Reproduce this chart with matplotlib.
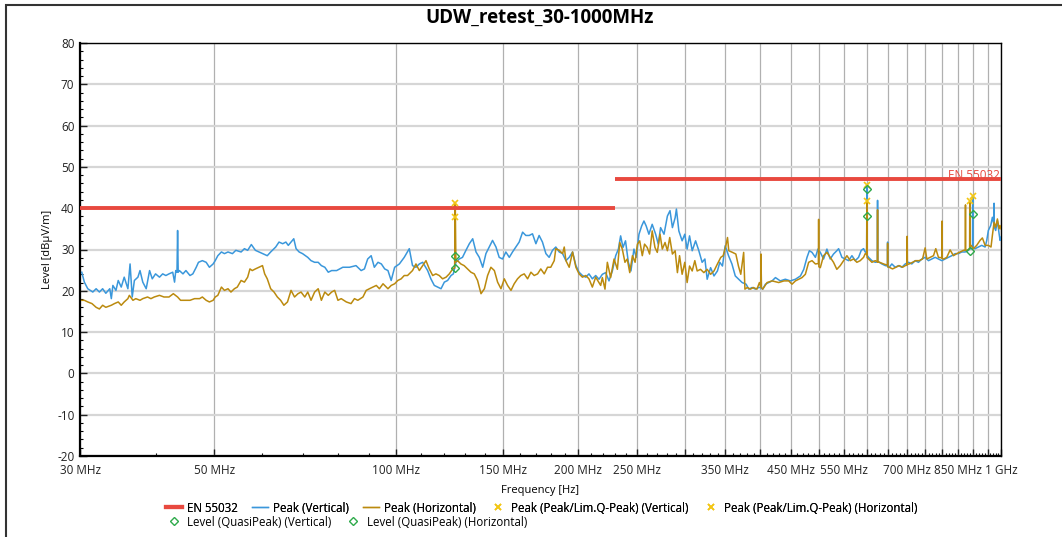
import matplotlib
matplotlib.use("Agg")
import matplotlib.pyplot as plt
from matplotlib.lines import Line2D
from matplotlib.patches import Rectangle
from matplotlib.ticker import FixedLocator, NullFormatter

plt.rcParams['font.family'] = ['Open Sans', 'DejaVu Sans']
plt.rcParams['axes.unicode_minus'] = False

TITLE = "UDW_retest_30-1000MHz"

# ---- Peak (Vertical) trace: frequency [MHz], level [dBuV/m]
v_freq = [30.2, 30.5, 30.9, 31.5, 31.9, 32.3, 32.7, 33.1, 33.6, 33.8, 34.0, 34.4, 34.7, 35.1, 35.5, 36.0,
          36.3, 36.6, 36.9, 37.4, 37.7, 38.1, 38.6, 39.1, 39.5, 40.0, 40.6, 41.1, 41.6, 42.1, 42.7, 43.0,
          43.2, 43.4, 43.5, 43.6, 43.8, 44.4, 44.9, 45.6, 46.1, 46.7, 47.1, 47.8, 48.5, 49.1, 49.8, 50.2,
          50.7, 51.4, 52.0, 52.7, 53.6, 54.3, 55.4, 56.1, 56.8, 57.6, 58.5, 59.3, 60.1, 61.2, 62.0, 63.2,
          64.0, 64.9, 65.7, 66.3, 67.0, 67.7, 68.3, 69.1, 70.0, 71.4, 72.3, 73.3, 74.3, 75.2, 76.2, 77.2,
          78.2, 79.7, 81.6, 83.7, 85.8, 87.5, 88.6, 89.7, 90.9, 92.0, 93.3, 94.5, 95.7, 96.9, 98.1, 99.4,
          101.2, 103.1, 105.1, 106.4, 107.8, 109.2, 110.6, 112.7, 114.1, 115.6, 117.1, 118.6, 120.1, 121.6,
          123.2, 124.3, 125.5, 127.1, 128.7, 130.4, 132.1, 133.8, 135.5, 137.2, 139.0, 140.7, 142.5, 144.3,
          146.2, 148.0, 149.9, 151.8, 153.8, 155.7, 157.7, 159.7, 161.8, 163.8, 165.9, 168.0, 170.2, 172.3,
          174.5, 176.8, 179.0, 181.3, 183.6, 186.0, 188.4, 190.8, 193.2, 195.7, 198.2, 200.6, 203.2, 205.8,
          208.3, 211.0, 213.7, 216.4, 219.2, 222.0, 224.8, 227.7, 230.6, 233.0, 235.0, 237.1, 239.4, 242.0,
          244.4, 247.2, 249.4, 252.0, 254.6, 256.8, 259.0, 261.7, 265.0, 268.5, 271.2, 273.6, 277.2, 280.8,
          283.6, 286.2, 289.2, 290.6, 293.3, 297.0, 300.0, 302.7, 305.5, 308.6, 312.6, 316.5, 320.5, 323.9,
          326.7, 331.0, 335.3, 339.7, 342.8, 346.3, 349.9, 354.4, 359.0, 363.6, 368.3, 373.2, 378.9, 382.8,
          387.7, 392.6, 397.6, 400.6, 401.1, 401.6, 403.6, 407.8, 413.0, 418.3, 423.7, 431.5, 439.9, 448.5,
          457.2, 466.0, 471.9, 477.8, 482.1, 487.0, 493.3, 498.1, 502.6, 508.9, 515.4, 521.9, 528.5, 535.2,
          538.9, 545.7, 552.8, 559.7, 566.9, 574.2, 581.4, 587.4, 592.6, 596.4, 599.6, 600.1, 600.6, 604.0,
          611.7, 619.6, 624.5, 625.0, 625.5, 629.1, 635.4, 643.7, 649.0, 649.4, 649.8, 653.5, 660.0, 668.5,
          676.9, 685.6, 694.5, 703.2, 712.1, 721.2, 730.4, 739.7, 749.2, 758.7, 768.4, 778.2, 788.1, 798.1,
          808.4, 818.6, 829.1, 839.8, 850.3, 861.3, 872.4, 883.3, 889.0, 897.2, 897.8, 898.4, 906.0, 917.5,
          929.2, 941.3, 947.2, 953.0, 961.5, 967.7, 973.4, 974.0, 974.6, 980.0, 986.4, 992.8, 996.5, 1000.0]
v_level = [24.5, 22.1, 20.5, 19.7, 20.5, 19.7, 20.5, 19.4, 20.5, 18.1, 21.3, 20.1, 22.5, 20.9, 23.3, 20.5,
           26.5, 18.5, 22.5, 23.3, 24.9, 22.1, 20.5, 24.9, 22.9, 24.1, 23.3, 24.1, 23.7, 24.1, 24.5, 22.1,
           24.9, 24.5, 34.6, 24.5, 24.9, 24.1, 24.9, 23.7, 24.1, 25.7, 26.9, 27.3, 26.9, 25.7, 26.5, 27.3,
           28.5, 29.4, 29.0, 29.4, 29.0, 29.8, 29.4, 30.2, 29.8, 31.2, 29.8, 29.4, 29.0, 28.5, 29.4, 30.6,
           31.8, 31.4, 31.8, 31.0, 31.8, 32.6, 30.2, 29.4, 29.0, 28.1, 27.3, 26.9, 26.9, 26.1, 25.7, 24.5,
           24.9, 24.9, 25.7, 25.7, 26.1, 24.9, 25.3, 27.7, 28.5, 25.7, 26.9, 26.5, 25.3, 24.9, 22.5, 25.7,
           26.5, 28.1, 30.2, 26.1, 25.7, 26.5, 26.9, 24.9, 22.9, 21.3, 20.9, 20.5, 22.1, 22.5,
           23.7, 24.1, 26.9, 27.7, 28.1, 29.8, 31.4, 32.6, 29.4, 28.1, 25.7, 29.0, 30.6, 32.2,
           30.6, 28.1, 27.7, 29.4, 28.1, 29.4, 30.6, 31.8, 34.2, 33.4, 33.4, 33.8, 31.4, 33.4,
           31.8, 29.0, 28.1, 29.8, 30.6, 29.4, 29.0, 27.3, 28.1, 29.4, 26.1, 24.5, 23.7, 23.3,
           24.1, 22.9, 23.7, 22.8, 24.0, 24.4, 22.4, 24.8, 28.5, 30.1, 33.3, 30.5, 32.1, 26.9,
           24.8, 30.1, 28.1, 33.7, 35.7, 36.9, 35.7, 33.7, 36.1, 33.7, 31.3, 35.3, 33.7, 38.1,
           39.4, 35.3, 37.7, 39.8, 34.5, 32.1, 33.7, 30.1, 33.3, 29.7, 32.1, 29.7, 26.9, 27.7,
           22.8, 25.6, 23.6, 24.8, 26.9, 26.0, 30.9, 28.5, 26.5, 23.6, 22.8, 22.0, 21.6, 20.4,
           20.8, 20.4, 20.8, 20.8, 28.1, 20.6, 20.4, 21.6, 22.0, 22.4, 23.2, 22.4, 22.8, 22.4,
           22.8, 23.6, 25.2, 28.1, 29.7, 29.3, 28.1, 30.1, 29.3, 27.7, 30.1, 27.7, 28.9, 29.7,
           30.2, 28.1, 27.7, 27.3, 28.5, 27.3, 28.1, 29.8, 30.2, 29.4, 29.2, 45.5, 28.6, 28.1,
           27.3, 26.9, 27.0, 41.9, 27.0, 26.9, 26.5, 26.1, 26.0, 31.8, 25.8, 25.7, 26.5, 25.7,
           26.1, 25.7, 26.5, 26.9, 26.5, 27.3, 26.9, 27.7, 28.1, 27.3, 27.7, 28.1, 27.7, 27.3,
           27.7, 28.1, 28.5, 29.0, 29.0, 29.4, 29.4, 29.8, 30.2, 30.2, 42.9, 30.3, 30.2, 30.6,
           31.0, 30.6, 32.2, 34.6, 35.8, 37.8, 36.0, 41.2, 35.5, 34.6, 37.0, 33.8, 32.2, 33.0]

# ---- Peak (Horizontal) trace
h_freq = [30.2, 30.5, 30.9, 31.4, 31.9, 32.3, 32.7, 33.1, 33.8, 34.2, 34.7, 35.1, 35.5, 36.0, 36.2, 36.7,
          37.1, 37.7, 38.1, 38.8, 39.3, 39.8, 40.6, 41.3, 42.1, 42.8, 43.5, 44.0, 44.6, 45.6, 46.4, 47.3,
          47.8, 48.5, 49.1, 49.8, 50.2, 50.7, 51.4, 52.0, 52.7, 53.3, 54.0, 54.6, 55.4, 56.1, 56.8, 57.3,
          57.8, 58.5, 59.3, 60.1, 60.6, 61.2, 62.0, 62.8, 63.6, 64.4, 65.2, 66.1, 67.0, 67.9, 68.8, 69.6,
          70.6, 71.4, 72.3, 73.3, 74.3, 75.2, 76.2, 77.2, 78.2, 79.1, 80.1, 81.1, 82.7, 84.2, 85.3, 86.4,
          88.1, 89.2, 90.3, 91.5, 92.7, 93.8, 95.1, 96.9, 98.1, 99.4, 100.6, 101.9, 103.1, 104.4, 106.4,
          107.8, 109.2, 110.6, 112.0, 113.4, 114.9, 116.3, 117.8, 119.3, 120.9, 122.4, 124.0, 124.9, 125.2,
          125.5, 126.3, 127.9, 129.5, 131.2, 132.9, 134.6, 136.3, 138.1, 139.9, 141.6, 143.4, 145.3, 147.1,
          149.0, 150.9, 152.8, 154.8, 156.7, 158.7, 160.7, 162.8, 164.9, 167.0, 169.1, 171.3, 173.4, 175.7,
          177.9, 180.1, 182.5, 183.6, 186.0, 188.4, 189.6, 190.8, 193.2, 195.7, 198.2, 200.6, 203.2, 205.8,
          208.3, 211.0, 213.7, 217.8, 219.2, 221.4, 223.4, 226.2, 229.2, 232.1, 234.2, 236.5, 238.9, 241.0,
          243.3, 245.8, 248.3, 250.5, 252.7, 255.2, 257.4, 260.0, 262.4, 265.0, 267.8, 270.2, 273.0, 275.4,
          278.3, 280.8, 283.3, 286.2, 289.2, 291.7, 294.1, 297.0, 300.0, 302.7, 305.5, 308.6, 311.7, 314.5,
          318.5, 322.6, 326.7, 331.0, 335.3, 339.7, 344.1, 347.2, 350.8, 353.0, 354.7, 359.8, 364.4, 368.0,
          371.3, 375.4, 377.2, 380.6, 385.1, 389.6, 394.9, 398.6, 400.6, 401.1, 401.6, 403.6, 410.4, 418.3,
          429.0, 437.6, 445.6, 451.3, 457.2, 462.9, 468.8, 474.8, 480.8, 487.0, 493.3, 498.9, 499.4, 499.9,
          502.6, 508.9, 515.4, 521.9, 528.5, 535.2, 542.3, 549.2, 556.2, 563.3, 570.5, 577.7, 585.1, 592.6,
          596.4, 599.6, 600.1, 600.6, 604.0, 611.7, 619.6, 624.5, 625.0, 625.5, 629.8, 639.6, 649.0, 649.4,
          649.8, 653.5, 661.7, 670.2, 678.8, 687.6, 694.5, 699.2, 699.7, 700.2, 705.0, 714.0, 722.9, 732.4,
          741.8, 749.2, 753.9, 763.8, 773.3, 780.1, 788.1, 798.7, 799.2, 799.7, 804.2, 813.4, 823.9, 834.4,
          845.1, 855.9, 866.9, 873.0, 873.5, 874.0, 879.1, 887.4, 887.9, 888.4, 892.6, 900.5, 911.6, 923.3,
          931.6, 941.3, 953.0, 962.7, 967.7, 974.0, 980.0, 986.4, 992.8, 996.5, 1000.0]
h_level = [17.7, 17.7, 17.3, 16.9, 16.0, 15.6, 16.5, 16.0, 16.5, 16.9, 17.3, 16.5, 17.3, 18.1, 18.9, 17.7,
           18.1, 17.7, 18.1, 18.5, 18.1, 18.5, 18.9, 18.5, 18.5, 19.3, 18.5, 17.7, 17.7, 17.7, 18.1, 18.1,
           18.5, 17.7, 17.3, 17.7, 18.5, 18.9, 20.9, 20.1, 20.5, 19.7, 20.5, 20.9, 22.5, 22.1, 23.3, 25.3,
           24.9, 25.3, 25.7, 26.1, 24.1, 22.9, 20.5, 19.7, 18.5, 17.7, 16.5, 17.3, 20.1, 18.5, 19.3, 19.7,
           18.5, 19.7, 17.7, 19.7, 20.5, 17.7, 19.7, 18.9, 19.7, 20.1, 17.7, 18.1, 17.3, 16.9, 18.1, 17.7,
           18.5, 20.1, 20.5, 20.9, 21.3, 20.5, 21.7, 20.5, 21.3, 21.7, 22.5, 22.9, 23.7, 23.7, 24.9,
           26.5, 24.9, 26.1, 27.3, 25.3, 23.7, 24.1, 23.7, 22.9, 23.3, 24.1, 25.3, 25.5, 41.3,
           27.0, 27.3, 26.5, 26.1, 25.3, 24.5, 24.1, 22.5, 19.3, 20.5, 23.7, 25.7, 24.9, 22.1,
           20.5, 22.9, 21.3, 20.1, 21.7, 22.9, 23.7, 24.1, 22.9, 24.5, 23.7, 24.1, 25.3, 24.1,
           25.7, 25.7, 27.3, 30.2, 29.8, 29.0, 30.6, 27.3, 25.7, 29.4, 25.7, 24.1, 23.3, 23.7,
           22.9, 20.9, 23.3, 21.3, 23.2, 20.4, 26.9, 23.2, 27.7, 25.2, 31.7, 30.1, 26.9, 27.7,
           24.4, 28.5, 26.9, 31.3, 32.1, 28.5, 31.3, 30.5, 28.9, 34.5, 30.5, 29.3, 33.7, 30.1,
           31.7, 29.7, 32.9, 28.9, 29.7, 24.4, 28.5, 24.0, 26.9, 22.0, 26.0, 24.8, 27.3, 24.8,
           25.2, 24.4, 25.2, 24.0, 24.8, 26.5, 28.1, 28.5, 30.9, 32.9, 29.7, 29.3, 28.9, 26.0,
           24.0, 29.3, 20.4, 20.8, 20.4, 20.8, 20.4, 22.0, 21.0, 28.9, 20.8, 20.4, 22.0, 22.4,
           22.0, 22.4, 22.4, 21.6, 22.4, 22.8, 23.2, 24.0, 26.9, 27.3, 26.5, 26.6, 37.3, 25.8,
           25.6, 28.5, 29.3, 28.1, 26.9, 25.2, 26.1, 27.3, 28.5, 27.3, 27.7, 26.9, 27.3, 28.1,
           29.0, 28.8, 41.6, 28.0, 27.7, 26.9, 27.3, 27.0, 39.6, 27.0, 26.9, 26.5, 26.2, 31.5,
           25.8, 25.7, 25.3, 25.7, 26.1, 25.7, 26.1, 26.2, 33.2, 26.4, 26.5, 26.9, 27.3, 27.3,
           27.7, 30.4, 27.7, 28.1, 28.5, 30.2, 28.1, 28.0, 36.9, 27.8, 27.7, 28.1, 29.9, 28.5,
           29.0, 29.4, 29.8, 29.8, 40.8, 29.8, 29.8, 30.2, 41.7, 30.6, 31.0, 30.2, 31.0, 32.2,
           32.8, 31.0, 31.0, 30.6, 33.4, 36.6, 35.4, 37.4, 35.0, 35.8, 35.0]

# ---- Limit line EN 55032
limit_freq_low = [30, 230]
limit_level_low = [40, 40]
limit_freq_high = [230, 1000]
limit_level_high = [47, 47]

# ---- Final measurement markers
pk_v_freq = [125.2, 600.1, 897.8]
pk_v_level = [37.9, 45.6, 43.0]
pk_h_freq = [125.2, 600.1, 887.9]
pk_h_level = [41.3, 41.7, 41.8]
qp_v_freq = [125.2, 600.1, 897.8]
qp_v_level = [25.4, 44.7, 38.5]
qp_h_freq = [125.2, 600.1, 887.9]
qp_h_level = [28.5, 38.0, 29.7]

# ---- axis ticks
xtick_major = [30] + list(range(50, 1001, 50))
xtick_labels = {30: "30 MHz", 50: "50 MHz", 100: "100 MHz", 150: "150 MHz", 200: "200 MHz",
                250: "250 MHz", 350: "350 MHz", 450: "450 MHz", 550: "550 MHz", 700: "700 MHz",
                850: "850 MHz", 1000: "1 GHz"}
xtick_minor = [f for f in range(40, 1000, 10) if f % 50 != 0]

C_RED = "#e8493f"
C_BLUE = "#3a97db"
C_GOLD = "#bb8a0e"
C_YEL = "#f3c614"
C_GREEN = "#2eaa4a"

W, H = 1062, 537
fig = plt.figure(figsize=(W / 100, H / 100), dpi=100)
fig.patch.set_facecolor("white")
ax = fig.add_axes([80 / W, 1 - 456 / H, (1001 - 80) / W, (456 - 43) / H])

ax.set_xscale("log")
ax.set_xlim(30, 1000)
ax.set_ylim(-20, 80)

ax.plot(limit_freq_low, limit_level_low, color=C_RED, lw=2.8, zorder=5, solid_capstyle="butt")
ax.plot(limit_freq_high, limit_level_high, color=C_RED, lw=2.8, zorder=5, solid_capstyle="butt")
ax.text(997, 47.9, "EN 55032", color=C_RED, fontsize=8.5, ha="right", va="center", zorder=4)

ax.plot(v_freq, v_level, color=C_BLUE, lw=1.1, zorder=3)
ax.plot(h_freq, h_level, color=C_GOLD, lw=1.1, zorder=3.5)

ax.plot(pk_v_freq, pk_v_level, ls="none", marker="x", ms=5, mew=1.2, color=C_YEL, zorder=6)
ax.plot(pk_h_freq, pk_h_level, ls="none", marker="x", ms=5, mew=1.2, color=C_YEL, zorder=6)
ax.plot(qp_v_freq, qp_v_level, ls="none", marker="D", ms=3.6, mew=1.0, mfc="none", mec=C_GREEN, zorder=6)
ax.plot(qp_h_freq, qp_h_level, ls="none", marker="D", ms=3.6, mew=1.0, mfc="none", mec=C_GREEN, zorder=6)

ax.xaxis.set_major_locator(FixedLocator(xtick_major))
ax.set_xticklabels([xtick_labels.get(f, "") for f in xtick_major])
ax.xaxis.set_minor_locator(FixedLocator(xtick_minor))
ax.xaxis.set_minor_formatter(NullFormatter())
ax.set_yticks(list(range(-20, 81, 10)))
ax.set_yticks(list(range(-20, 81, 2)), minor=True)

ax.tick_params(axis="both", which="major", direction="in", length=5, width=1, labelsize=8.5,
               colors="#222222", pad=4)
ax.tick_params(axis="x", which="major", pad=5.5)
ax.tick_params(axis="both", which="minor", direction="in", length=2.5, width=0.8)
ax.tick_params(top=False, right=False)

ax.grid(axis="x", which="major", color="#b0b0b0", lw=0.9, zorder=0)
ax.grid(axis="y", which="major", color="#d6d6d6", lw=1.6, zorder=0)
ax.set_axisbelow(True)

for s in ["left", "bottom"]:
    ax.spines[s].set_linewidth(1.6)
for s in ["top", "right"]:
    ax.spines[s].set_linewidth(1.0)

ax.set_xlabel("Frequency [Hz]", fontsize=8, labelpad=6)
ax.set_ylabel("Level [dBµV/m]", fontsize=8, labelpad=3)

fig.text(540 / W, 1 - 18 / H, TITLE, ha="center", va="center", fontsize=13.5, fontweight="bold")

fig.add_artist(Rectangle((6 / W, -0.1), 1.2, 1.1 - 5 / H, transform=fig.transFigure,
                         fill=False, ec="#333333", lw=1.5, clip_on=False))

h1 = [Line2D([], [], color=C_RED, lw=3),
      Line2D([], [], color=C_BLUE, lw=1),
      Line2D([], [], color=C_GOLD, lw=1),
      Line2D([], [], ls="none", marker="x", ms=5, mew=1.2, color=C_YEL),
      Line2D([], [], ls="none", marker="x", ms=5, mew=1.2, color=C_YEL)]
l1 = ["EN 55032", "Peak (Vertical)", "Peak (Horizontal)", "Peak (Peak/Lim.Q-Peak) (Vertical)",
      "Peak (Peak/Lim.Q-Peak) (Horizontal)"]
h2 = [Line2D([], [], ls="none", marker="D", ms=3.6, mew=1.0, mfc="none", mec=C_GREEN),
      Line2D([], [], ls="none", marker="D", ms=3.6, mew=1.0, mfc="none", mec=C_GREEN)]
l2 = ["Level (QuasiPeak) (Vertical)", "Level (QuasiPeak) (Horizontal)"]

leg_kw = dict(frameon=False, fontsize=8.3, handlelength=1.4, columnspacing=1.2, handletextpad=0.45,
              borderpad=0, borderaxespad=0)
leg1 = fig.legend(h1, l1, ncol=5, loc="center left", bbox_to_anchor=(166 / W, 1 - 508 / H), **leg_kw)
leg2 = fig.legend(h2, l2, ncol=2, loc="center left", bbox_to_anchor=(166 / W, 1 - 522 / H), **leg_kw)
fig.add_artist(leg1)

fig.savefig("out.png", dpi=100)
